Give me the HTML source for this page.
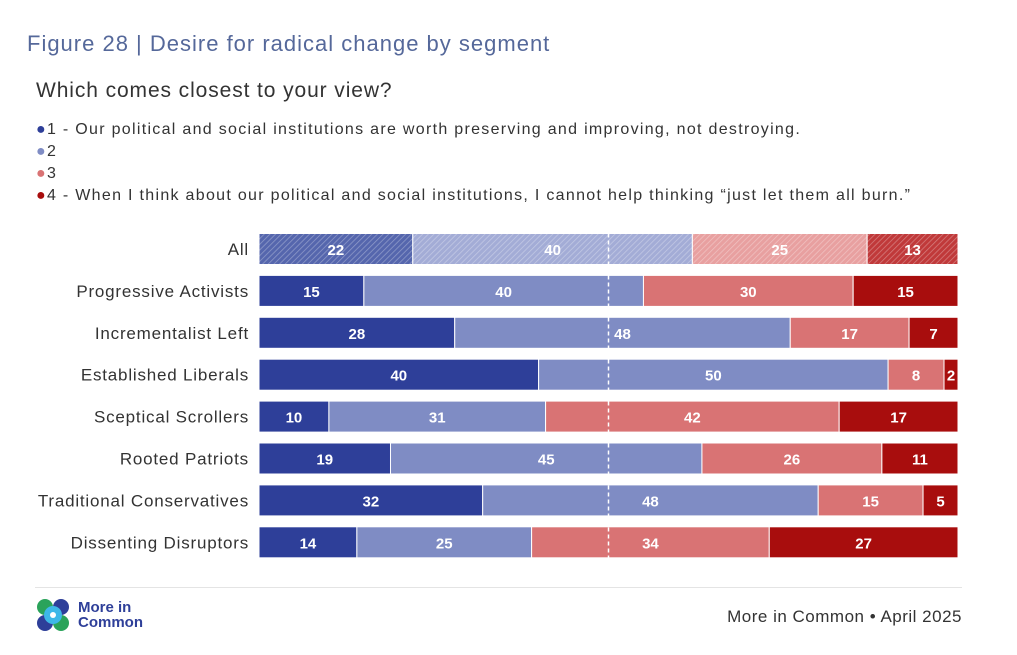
<!DOCTYPE html>
<html><head><meta charset="utf-8"><style>
body{margin:0;width:1017px;height:655px;background:#fff;font-family:"Liberation Sans",sans-serif;position:relative;overflow:hidden}
.t{position:absolute;white-space:nowrap}
</style></head><body>
<div class="t" style="left:27px;top:31px;font-size:22px;letter-spacing:1px;color:#55689a;">Figure 28 | Desire for radical change by segment</div>
<div class="t" style="left:36px;top:79px;font-size:21px;letter-spacing:0.9px;color:#333;">Which comes closest to your view?</div>
<div style="position:absolute;left:36px;top:119px;font-size:16px;letter-spacing:1.3px;color:#333;line-height:22px">
<div><span style="color:#2e3f99">●</span>1 - Our political and social institutions are worth preserving and improving, not destroying.</div>
<div><span style="color:#7f8cc4">●</span>2</div>
<div><span style="color:#d97374">●</span>3</div>
<div><span style="color:#a80d0d">●</span>4 - When I think about our political and social institutions, I cannot help thinking “just let them all burn.”</div>
</div>
<svg id="chart" width="1017" height="655" style="position:absolute;left:0;top:0">
<defs><pattern id="hatch" width="4" height="4" patternUnits="userSpaceOnUse" patternTransform="rotate(45)"><line x1="0" y1="0" x2="0" y2="4" stroke="rgba(255,255,255,0.35)" stroke-width="1.5"/></pattern></defs>
</svg>
<div style="position:absolute;left:35px;top:587px;width:927px;height:1px;background:#e4e4e4"></div>
<svg width="36" height="36" style="position:absolute;left:35px;top:597px">
<circle cx="10" cy="10" r="8" fill="#2aa35a"/><circle cx="26" cy="10" r="8" fill="#2e3f99"/><circle cx="10" cy="26" r="8" fill="#2e3f99"/><circle cx="26" cy="26" r="8" fill="#2aa35a"/>
<circle cx="18" cy="18" r="9" fill="#3db8e8"/><circle cx="18" cy="18" r="3" fill="#fff"/></svg>
<div class="t" style="left:78px;top:600px;font-size:15px;font-weight:bold;color:#2e3f99;line-height:15px">More in<br>Common</div>
<div class="t" style="right:55px;top:607px;font-size:17px;letter-spacing:0.5px;color:#333">More in Common • April 2025</div>
<script>
const categories=["All","Progressive Activists","Incrementalist Left","Established Liberals","Sceptical Scrollers","Rooted Patriots","Traditional Conservatives","Dissenting Disruptors"];
const s1=[22,15,28,40,10,19,32,14];
const s2=[40,40,48,50,31,45,48,25];
const s3=[25,30,17,8,42,26,15,34];
const s4=[13,15,7,2,17,11,5,27];
const colors=["#2e3f99","#7f8cc4","#d97374","#a80d0d"];
const allColors=["#5566ad","#a3acd6","#e8a0a0","#c0393a"];
const svg=document.getElementById('chart');
const NS="http://www.w3.org/2000/svg";
const x0=259,x1=958;
const xs=v=>x0+(x1-x0)*v/100;
const yc=i=>249+i*41.9;
const bh=31;
categories.forEach((c,i)=>{
  const t=document.createElementNS(NS,'text');
  
  
  t.setAttribute('x',249);t.setAttribute('y',yc(i)+6);t.setAttribute('text-anchor','end');
  t.setAttribute('font-size','17');t.setAttribute('letter-spacing','0.8');t.setAttribute('fill','#333');t.textContent=c;svg.appendChild(t);
  const vals=[s1[i],s2[i],s3[i],s4[i]];
  const tot=vals.reduce((a,b)=>a+b,0);
  let acc=0;
  vals.forEach((v,k)=>{
    const a=xs(acc/tot*100),b=xs((acc+v)/tot*100);acc+=v;
    const r=document.createElementNS(NS,'rect');
    
    
    r.setAttribute('x',a);r.setAttribute('y',yc(i)-bh/2);r.setAttribute('width',b-a);r.setAttribute('height',bh);
    r.setAttribute('fill',i===0?allColors[k]:colors[k]);r.setAttribute('stroke','#fff');r.setAttribute('stroke-width','1');
    svg.appendChild(r);
    if(i===0){const h=document.createElementNS(NS,'rect');
      
      
      h.setAttribute('x',a);h.setAttribute('y',yc(i)-bh/2);h.setAttribute('width',b-a);h.setAttribute('height',bh);h.setAttribute('fill','url(#hatch)');svg.appendChild(h);}
    const l=document.createElementNS(NS,'text');
    
    
    l.setAttribute('x',(a+b)/2);l.setAttribute('y',yc(i)+6);l.setAttribute('text-anchor','middle');
    l.setAttribute('font-size','15');l.setAttribute('font-weight','bold');l.setAttribute('fill','#fff');l.textContent=v;svg.appendChild(l);
  });
});
const d=document.createElementNS(NS,'line');


d.setAttribute('x1',xs(50));d.setAttribute('x2',xs(50));d.setAttribute('y1',yc(0)-bh/2);d.setAttribute('y2',yc(7)+bh/2);
d.setAttribute('stroke','#fff');d.setAttribute('stroke-width','1.5');d.setAttribute('stroke-dasharray','4 3');svg.appendChild(d);
</script>
</body></html>
